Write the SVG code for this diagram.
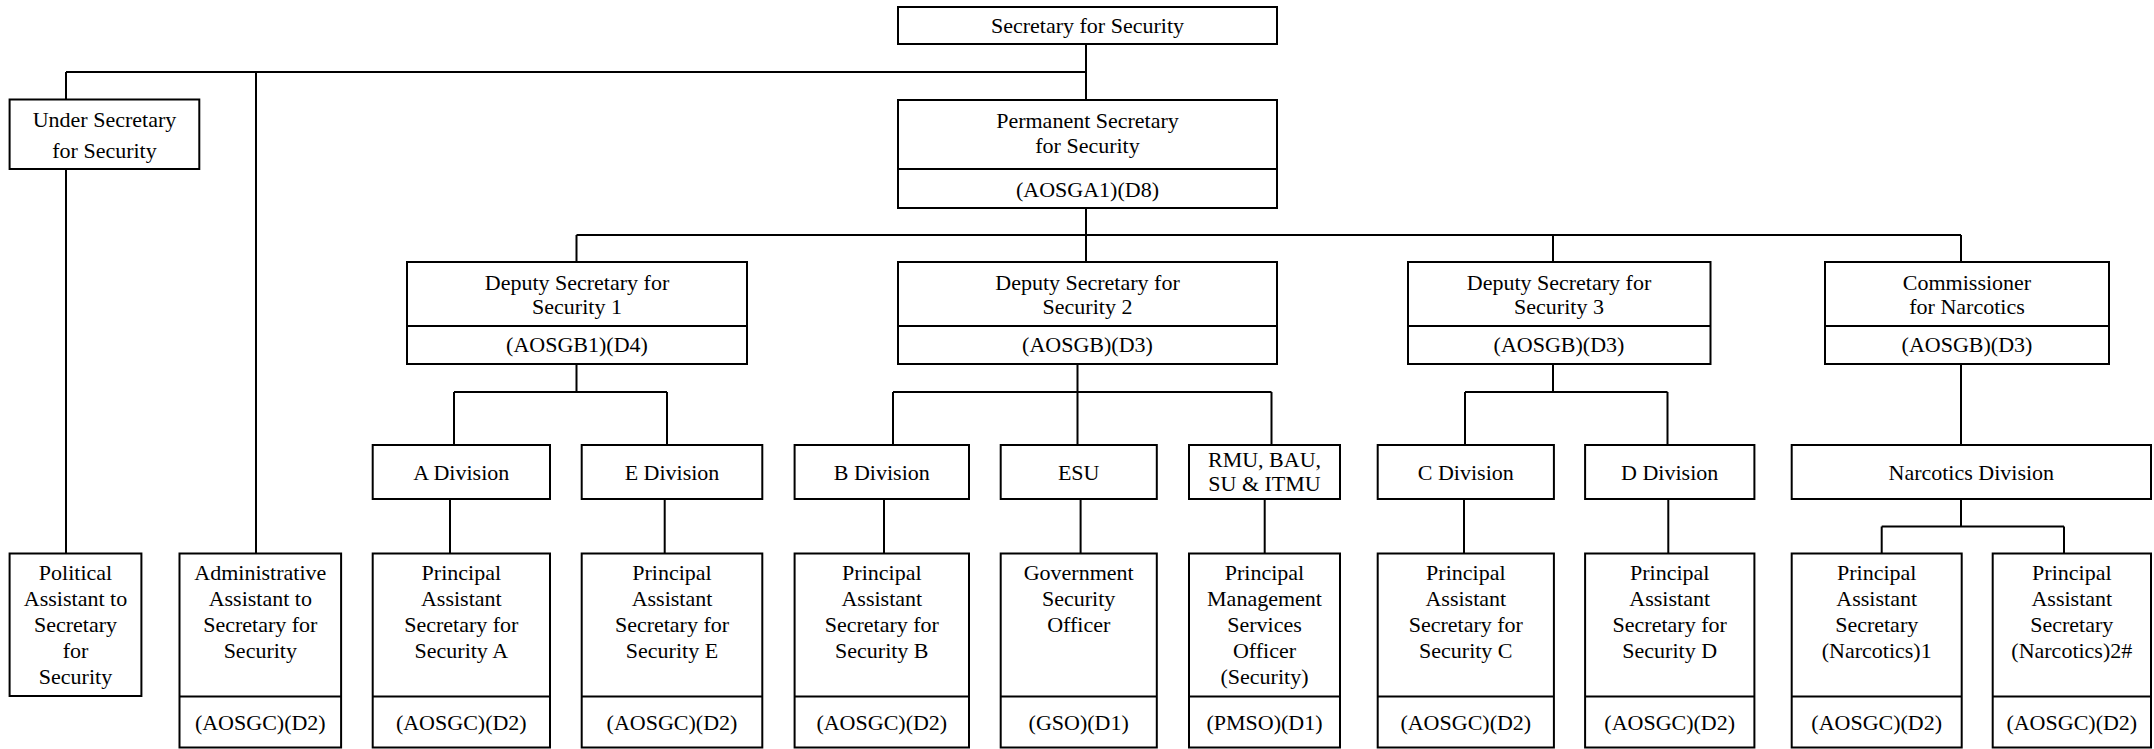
<svg xmlns="http://www.w3.org/2000/svg" width="2154" height="749" viewBox="0 0 2154 749">
<style>
rect{fill:#fff;stroke:#000;stroke-width:2}
.dv{stroke:#000;stroke-width:2}
.c{fill:none;stroke:#000;stroke-width:2}
text{font-size:22px;fill:#000;text-anchor:middle}
</style>
<rect x="0" y="0" width="2154" height="749" style="fill:#fff;stroke:none"/>
<g id="connectors">
<path class="c" d="M66,72H1086M66,72V100M66,169V553.5M256,72V553.5M1086,44V100M1086,208V235"/>
<path class="c" d="M576.5,235H1961M576.5,235V262M1086,235V262M1553,235V262M1961,235V262"/>
<path class="c" d="M576.5,364V392M454,392H667M454,392V445M667,392V445"/>
<path class="c" d="M1077.5,364V392M893,392H1271.5M893,392V445M1077.5,392V445M1271.5,392V445"/>
<path class="c" d="M1553,364V392M1465,392H1667.5M1465,392V445M1667.5,392V445"/>
<path class="c" d="M1961,364V445"/>
<path class="c" d="M450,499V553.5M664.7,499V553.5M884,499V553.5M1080.6,499V553.5M1264.7,499V553.5M1464,499V553.5M1668.3,499V553.5"/>
<path class="c" d="M1961,499V526.5M1881.7,526.5H2064M1881.7,526.5V553.5M2064,526.5V553.5"/>
</g>
<g font-family="Liberation Serif, Times New Roman, serif">
<g id="sec"><rect x="898" y="7" width="379" height="37"/><text x="1087.5" y="33">Secretary for Security</text></g>
<g id="under"><rect x="9.6" y="99.5" width="189.7" height="69.5"/><text x="104.5" y="127">Under Secretary</text><text x="104.5" y="158">for Security</text></g>
<g id="perm"><rect x="898" y="100" width="379" height="108"/><line class="dv" x1="898" y1="169" x2="1277" y2="169"/><text x="1087.5" y="128">Permanent Secretary</text><text x="1087.5" y="152.5">for Security</text><text x="1087.5" y="196.5">(AOSGA1)(D8)</text></g>
<g id="ds1"><rect x="407" y="262" width="340" height="102"/><line class="dv" x1="407" y1="326" x2="747" y2="326"/><text x="577" y="289.5">Deputy Secretary for</text><text x="577" y="314">Security 1</text><text x="577" y="352">(AOSGB1)(D4)</text></g>
<g id="ds2"><rect x="898" y="262" width="379" height="102"/><line class="dv" x1="898" y1="326" x2="1277" y2="326"/><text x="1087.5" y="289.5">Deputy Secretary for</text><text x="1087.5" y="314">Security 2</text><text x="1087.5" y="352">(AOSGB)(D3)</text></g>
<g id="ds3"><rect x="1408" y="262" width="302.5" height="102"/><line class="dv" x1="1408" y1="326" x2="1710.5" y2="326"/><text x="1559" y="289.5">Deputy Secretary for</text><text x="1559" y="314">Security 3</text><text x="1559" y="352">(AOSGB)(D3)</text></g>
<g id="comm"><rect x="1825" y="262" width="284" height="102"/><line class="dv" x1="1825" y1="326" x2="2109" y2="326"/><text x="1967" y="289.5">Commissioner</text><text x="1967" y="314">for Narcotics</text><text x="1967" y="352">(AOSGB)(D3)</text></g>
<g id="divA"><rect x="372.7" y="445" width="177.3" height="54"/><text x="461.3" y="479.5">A Division</text></g>
<g id="divE"><rect x="581.7" y="445" width="180.6" height="54"/><text x="672" y="479.5">E Division</text></g>
<g id="divB"><rect x="794.6" y="445" width="174.4" height="54"/><text x="881.8" y="479.5">B Division</text></g>
<g id="esu"><rect x="1000.7" y="445" width="156.1" height="54"/><text x="1078.7" y="479.5">ESU</text></g>
<g id="rmu"><rect x="1189" y="445" width="151" height="54"/><text x="1264.5" y="467">RMU, BAU,</text><text x="1264.5" y="490.5">SU &amp; ITMU</text></g>
<g id="divC"><rect x="1377.7" y="445" width="176.2" height="54"/><text x="1465.8" y="479.5">C Division</text></g>
<g id="divD"><rect x="1585.1" y="445" width="169.3" height="54"/><text x="1669.7" y="479.5">D Division</text></g>
<g id="divN"><rect x="1791.7" y="445" width="359.3" height="54"/><text x="1971.3" y="479.5">Narcotics Division</text></g>
<g id="pol"><rect x="9.6" y="553.5" width="131.8" height="142.5"/><text x="75.5" y="580">Political</text><text x="75.5" y="606">Assistant to</text><text x="75.5" y="632">Secretary</text><text x="75.5" y="658">for</text><text x="75.5" y="683.5">Security</text></g>
<g id="adm"><rect x="179.5" y="553.5" width="161.6" height="194"/><line class="dv" x1="179.5" y1="696.5" x2="341.1" y2="696.5"/><text x="260.3" y="580">Administrative</text><text x="260.3" y="606">Assistant to</text><text x="260.3" y="632">Secretary for</text><text x="260.3" y="658">Security</text><text x="260.3" y="730">(AOSGC)(D2)</text></g>
<g id="pasA"><rect x="372.7" y="553.5" width="177.3" height="194"/><line class="dv" x1="372.7" y1="696.5" x2="550" y2="696.5"/><text x="461.3" y="580">Principal</text><text x="461.3" y="606">Assistant</text><text x="461.3" y="632">Secretary for</text><text x="461.3" y="658">Security A</text><text x="461.3" y="730">(AOSGC)(D2)</text></g>
<g id="pasE"><rect x="581.7" y="553.5" width="180.6" height="194"/><line class="dv" x1="581.7" y1="696.5" x2="762.3" y2="696.5"/><text x="672" y="580">Principal</text><text x="672" y="606">Assistant</text><text x="672" y="632">Secretary for</text><text x="672" y="658">Security E</text><text x="672" y="730">(AOSGC)(D2)</text></g>
<g id="pasB"><rect x="794.6" y="553.5" width="174.4" height="194"/><line class="dv" x1="794.6" y1="696.5" x2="969" y2="696.5"/><text x="881.8" y="580">Principal</text><text x="881.8" y="606">Assistant</text><text x="881.8" y="632">Secretary for</text><text x="881.8" y="658">Security B</text><text x="881.8" y="730">(AOSGC)(D2)</text></g>
<g id="gso"><rect x="1000.7" y="553.5" width="156.1" height="194"/><line class="dv" x1="1000.7" y1="696.5" x2="1156.8" y2="696.5"/><text x="1078.7" y="580">Government</text><text x="1078.7" y="606">Security</text><text x="1078.7" y="632">Officer</text><text x="1078.7" y="730">(GSO)(D1)</text></g>
<g id="pmso"><rect x="1189" y="553.5" width="151" height="194"/><line class="dv" x1="1189" y1="696.5" x2="1340" y2="696.5"/><text x="1264.5" y="580">Principal</text><text x="1264.5" y="606">Management</text><text x="1264.5" y="632">Services</text><text x="1264.5" y="658">Officer</text><text x="1264.5" y="683.5">(Security)</text><text x="1264.5" y="730">(PMSO)(D1)</text></g>
<g id="pasC"><rect x="1377.7" y="553.5" width="176.2" height="194"/><line class="dv" x1="1377.7" y1="696.5" x2="1553.9" y2="696.5"/><text x="1465.8" y="580">Principal</text><text x="1465.8" y="606">Assistant</text><text x="1465.8" y="632">Secretary for</text><text x="1465.8" y="658">Security C</text><text x="1465.8" y="730">(AOSGC)(D2)</text></g>
<g id="pasD"><rect x="1585.1" y="553.5" width="169.3" height="194"/><line class="dv" x1="1585.1" y1="696.5" x2="1754.4" y2="696.5"/><text x="1669.7" y="580">Principal</text><text x="1669.7" y="606">Assistant</text><text x="1669.7" y="632">Secretary for</text><text x="1669.7" y="658">Security D</text><text x="1669.7" y="730">(AOSGC)(D2)</text></g>
<g id="pasN1"><rect x="1791.7" y="553.5" width="170" height="194"/><line class="dv" x1="1791.7" y1="696.5" x2="1961.7" y2="696.5"/><text x="1876.7" y="580">Principal</text><text x="1876.7" y="606">Assistant</text><text x="1876.7" y="632">Secretary</text><text x="1876.7" y="658">(Narcotics)1</text><text x="1876.7" y="730">(AOSGC)(D2)</text></g>
<g id="pasN2"><rect x="1992.7" y="553.5" width="158.3" height="194"/><line class="dv" x1="1992.7" y1="696.5" x2="2151" y2="696.5"/><text x="2071.8" y="580">Principal</text><text x="2071.8" y="606">Assistant</text><text x="2071.8" y="632">Secretary</text><text x="2071.8" y="658">(Narcotics)2#</text><text x="2071.8" y="730">(AOSGC)(D2)</text></g>
</g>
</svg>
